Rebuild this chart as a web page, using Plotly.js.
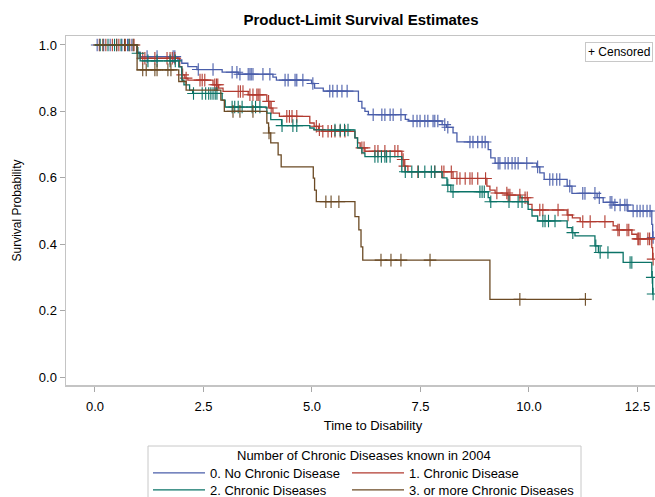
<!DOCTYPE html>
<html>
<head>
<meta charset="utf-8">
<script src="https://cdn.plot.ly/plotly-3.0.1.min.js"></script>
<style>
  html, body { margin: 0; padding: 0; background: #ffffff; overflow: hidden; }
  #chart { width: 722px; height: 510px; }
</style>
</head>
<body>
<div id="chart"></div>
<script>
// Kaplan-Meier step curves: event times and survival after each drop, plus censoring times.
const groupNames = [
  '0. No Chronic Disease',
  '1. Chronic Disease',
  '2. Chronic Diseases',
  '3. or more Chronic Diseases'
];
const groupColors = ['#4a5eaa', '#b23b30', '#0b7367', '#6b4a24'];
const legendTitle = 'Number of Chronic Diseases known in 2004';

const noneTimes = [0, 0.97, 1.04, 1.91, 2.0, 2.14, 2.35, 2.93, 3.3, 4.10, 4.18, 4.99, 5.06, 5.26,
  6.07, 6.15, 6.22, 6.30, 7.15, 7.23, 8.0, 8.10, 8.25, 8.34, 9.06, 9.12, 9.22, 10.18, 10.25,
  10.35, 10.88, 10.99, 11.57, 11.71, 11.94, 12.28, 12.83, 12.85];
const noneSurv = [1.0, 0.978, 0.965, 0.955, 0.945, 0.935, 0.926, 0.918, 0.912, 0.903, 0.894, 0.884,
  0.870, 0.861, 0.83, 0.81, 0.80, 0.790, 0.776, 0.771, 0.76, 0.752, 0.735, 0.708, 0.685, 0.66,
  0.644, 0.633, 0.615, 0.595, 0.575, 0.553, 0.54, 0.526, 0.518, 0.50, 0.46, 0.42];
const noneCens = [0.05, 0.2, 0.35, 0.5, 0.62, 0.75, 0.85, 1.2, 1.43, 1.8, 1.84, 2.38, 2.72, 3.16,
  3.27, 3.34, 3.53, 3.57, 3.6, 3.64, 3.87, 4.03, 4.38, 4.45, 4.61, 4.65, 4.79, 5.02, 5.41, 5.48,
  5.58, 5.69, 5.81, 6.41, 6.61, 6.68, 6.8, 6.87, 7.05, 7.33, 7.42, 7.49, 7.6, 7.67, 7.79, 7.83,
  7.9, 8.06, 8.13, 8.64, 8.71, 8.82, 8.92, 8.99, 9.29, 9.33, 9.45, 9.52, 9.61, 9.68, 9.75, 9.95,
  10.2, 10.48, 10.55, 10.64, 10.71, 10.94, 11.24, 11.29, 11.52, 11.62, 11.87, 11.91, 11.98, 12.1,
  12.21, 12.26, 12.4, 12.49, 12.56, 12.63, 12.72, 12.79, 12.86];

const oneTimes = [0, 0.97, 1.04, 1.95, 2.0, 2.07, 2.14, 2.72, 2.85, 2.95, 3.53, 3.96, 4.03, 4.10,
  4.25, 4.95, 5.05, 5.15, 5.23, 5.99, 6.05, 6.11, 6.22, 7.07, 7.12, 7.21, 8.25, 9.03, 9.10, 9.22,
  9.5, 9.8, 9.98, 10.07, 10.88, 11.0, 11.18, 11.94, 12.03, 12.37, 12.49, 12.83, 12.85];
const oneSurv = [1.0, 0.975, 0.96, 0.935, 0.91, 0.90, 0.894, 0.88, 0.87, 0.86, 0.85, 0.83, 0.81,
  0.795, 0.785, 0.765, 0.755, 0.745, 0.74, 0.72, 0.705, 0.69, 0.68, 0.655, 0.635, 0.618, 0.598,
  0.575, 0.563, 0.554, 0.548, 0.54, 0.52, 0.503, 0.488, 0.479, 0.468, 0.455, 0.443, 0.43, 0.416,
  0.39, 0.355];
const oneCens = [0.1, 0.25, 0.4, 0.55, 0.7, 0.8, 0.9, 1.1, 1.15, 1.38, 1.66, 1.73, 1.78, 1.84,
  2.02, 2.1, 2.42, 2.47, 2.53, 2.76, 2.8, 2.83, 3.3, 3.35, 3.41, 3.57, 3.64, 3.73, 3.76, 3.8, 4.0,
  4.06, 4.42, 4.48, 4.54, 4.65, 5.1, 5.17, 5.25, 5.37, 5.45, 5.53, 5.65, 5.76, 6.15, 6.2, 6.45,
  6.52, 6.68, 6.91, 6.98, 7.1, 7.14, 7.44, 7.83, 7.99, 8.04, 8.21, 8.34, 8.41, 8.53, 8.64, 8.69,
  8.82, 9.0, 9.26, 9.49, 9.52, 9.56, 9.79, 9.91, 9.96, 10.25, 10.32, 10.67, 10.9, 11.24, 11.41,
  11.75, 12.05, 12.08, 12.26, 12.3, 12.51, 12.53, 12.56, 12.74, 12.78, 12.86];

const twoTimes = [0, 0.97, 1.04, 1.93, 2.0, 2.05, 2.18, 2.25, 2.93, 3.0, 3.96, 4.05, 4.3, 4.95,
  5.05, 5.99, 6.05, 6.15, 6.22, 7.07, 8.0, 8.11, 8.2, 9.06, 9.1, 9.98, 10.07, 10.2, 10.88, 10.99,
  11.06, 11.52, 11.6, 12.17, 12.83, 12.85];
const twoSurv = [1.0, 0.975, 0.952, 0.934, 0.894, 0.88, 0.864, 0.854, 0.834, 0.813, 0.795, 0.775,
  0.757, 0.75, 0.744, 0.72, 0.69, 0.675, 0.664, 0.618, 0.60, 0.578, 0.558, 0.54, 0.528, 0.505,
  0.485, 0.47, 0.45, 0.435, 0.425, 0.395, 0.375, 0.345, 0.30, 0.25];
const twoCens = [0.12, 0.3, 0.45, 0.6, 0.78, 0.99, 1.22, 1.43, 1.73, 1.85, 2.27, 2.47, 2.55, 2.62,
  2.67, 2.72, 2.77, 2.81, 3.16, 3.22, 3.3, 3.39, 3.62, 3.7, 3.8, 4.31, 4.56, 4.65, 5.53, 5.65,
  5.75, 5.83, 6.45, 6.52, 6.6, 6.68, 6.72, 6.8, 7.15, 7.3, 7.45, 7.6, 7.75, 7.83, 8.13, 8.25,
  8.87, 8.92, 8.97, 9.12, 9.54, 9.75, 9.84, 10.32, 10.37, 10.45, 10.6, 11.01, 11.54, 11.64, 11.82,
  12.33, 12.37, 12.84, 12.86];

const threeTimes = [0, 0.97, 1.93, 2.1, 2.9, 2.98, 3.96, 4.0, 4.05, 4.22, 4.29, 5.03, 5.06, 5.10,
  5.99, 6.08, 6.13, 6.17, 9.10];
const threeSurv = [1.0, 0.925, 0.89, 0.864, 0.834, 0.80, 0.765, 0.735, 0.705, 0.669, 0.633, 0.599,
  0.563, 0.528, 0.483, 0.443, 0.392, 0.352, 0.234];
const threeCens = [0.18, 0.5, 0.68, 0.88, 1.1, 1.18, 1.38, 1.43, 1.68, 1.75, 3.18, 3.34, 3.64,
  4.01, 5.32, 5.44, 5.62, 6.59, 6.82, 7.05, 7.72, 9.79, 11.3];

const groups = [
  [noneTimes, noneSurv, noneCens],
  [oneTimes, oneSurv, oneCens],
  [twoTimes, twoSurv, twoCens],
  [threeTimes, threeSurv, threeCens]
];
// one legend box per entry, laid out as a two-by-two grid
const legendIds = ['legend', 'legend2', 'legend3', 'legend4'];

// survival of a step curve at time t (value after the last drop at or before t)
function survAt(times, surv, t) {
  let s = surv[0];
  for (let i = 0; i < times.length; i++) {
    if (times[i] <= t) s = surv[i];
  }
  return s;
}

const FONT = 'Arial, "Liberation Sans", sans-serif';
const traces = [];

groups.forEach(([times, surv, cens], i) => {
  const last = Math.max(times[times.length - 1], cens[cens.length - 1]);
  traces.push({
    type: 'scatter',
    mode: 'lines',
    x: times.concat([last]),
    y: surv.concat([surv[surv.length - 1]]),
    line: { shape: 'hv', color: groupColors[i], width: 1.3 },
    name: groupNames[i],
    legend: legendIds[i],
    hoverinfo: 'skip'
  });
  traces.push({
    type: 'scatter',
    mode: 'markers',
    x: cens,
    y: cens.map(t => survAt(times, surv, t)),
    marker: {
      symbol: 'cross-thin',
      size: 9,
      color: groupColors[i],
      line: { color: groupColors[i], width: 1.1 }
    },
    showlegend: false,
    hoverinfo: 'skip'
  });
});

// pixel helpers for placing the legend block under the plot
const PL = 66, PW = 614, PB = 385, PH = 349;
const px2x = p => (p - PL) / PW;
const py2y = p => (PB - p) / PH;

const legendCommon = {
  orientation: 'h',
  xref: 'paper', xanchor: 'left',
  yref: 'paper', yanchor: 'top',
  bgcolor: 'rgba(0,0,0,0)',
  borderwidth: 0,
  itemwidth: 52,
  font: { family: FONT, size: 13, color: '#000000' }
};
const colX = [148, 347, 148, 347];
const rowTop = [458, 458, 475, 475];

const layout = {
  width: 722,
  height: 510,
  margin: { l: 66, r: 42, t: 36, b: 125, autoexpand: false },
  paper_bgcolor: '#ffffff',
  plot_bgcolor: '#ffffff',
  font: { family: FONT, size: 13, color: '#000000' },
  title: {
    text: 'Product-Limit Survival Estimates',
    font: { family: FONT, size: 15, color: '#000000', weight: 'bold' },
    xref: 'container', x: 0.5, xanchor: 'center',
    yref: 'container', y: 1 - 20 / 510, yanchor: 'middle'
  },
  xaxis: {
    range: [-0.668, 13.48],
    tick0: 0, dtick: 2.5, tickformat: '.1f',
    showgrid: false, zeroline: false,
    showline: true, linecolor: '#c4c4c4', linewidth: 1.5, mirror: true,
    ticks: 'outside', ticklen: 5, tickcolor: '#a8a8a8', tickwidth: 1,
    ticklabelstandoff: 4,
    tickfont: { family: FONT, size: 13, color: '#000000' },
    title: { text: 'Time to Disability', font: { family: FONT, size: 13, color: '#000000' }, standoff: 8 },
    automargin: false
  },
  yaxis: {
    range: [-0.024, 1.027],
    tick0: 0, dtick: 0.2, tickformat: '.1f',
    showgrid: false, zeroline: false,
    showline: true, linecolor: '#c4c4c4', linewidth: 1.5, mirror: true,
    ticks: 'outside', ticklen: 5, tickcolor: '#a8a8a8', tickwidth: 1,
    tickfont: { family: FONT, size: 13, color: '#000000' },
    title: { text: 'Survival Probability', font: { family: FONT, size: 12, color: '#000000' }, standoff: 14 },
    automargin: false
  },
  showlegend: true,
  shapes: [{
    type: 'rect', xref: 'paper', yref: 'paper', layer: 'below',
    x0: px2x(148), x1: px2x(581), y0: py2y(446), y1: py2y(512),
    line: { color: '#c8c8c8', width: 1 },
    fillcolor: 'rgba(0,0,0,0)'
  }],
  annotations: [{
    text: '+ Censored',
    xref: 'paper', x: px2x(585), xanchor: 'left',
    yref: 'paper', y: py2y(42), yanchor: 'top',
    showarrow: false,
    font: { family: FONT, size: 12, color: '#000000' },
    bordercolor: '#c8c8c8', borderwidth: 1, borderpad: 2,
    bgcolor: '#ffffff'
  }, {
    text: legendTitle,
    xref: 'paper', x: px2x(364), xanchor: 'center',
    yref: 'paper', y: py2y(455), yanchor: 'middle',
    showarrow: false,
    font: { family: FONT, size: 13, color: '#000000' }
  }]
};

legendIds.forEach((id, i) => {
  layout[id] = Object.assign({}, legendCommon, { x: px2x(colX[i]), y: py2y(rowTop[i]) });
});

Plotly.newPlot('chart', traces, layout, { staticPlot: true, displayModeBar: false });
</script>
</body>
</html>
